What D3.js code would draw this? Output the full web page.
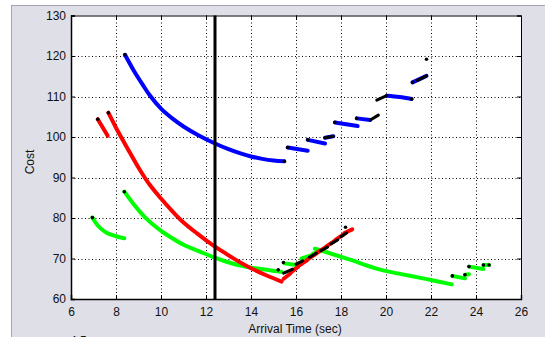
<!DOCTYPE html>
<html><head><meta charset="utf-8">
<script src="https://cdn.jsdelivr.net/npm/d3@7"></script>
<style>body{margin:0;background:#fff}svg{display:block}</style>
</head><body>
<svg id="c" width="545" height="337"></svg>
<script>
const xTicks = [6,8,10,12,14,16,18,20,22,24,26];
const yTicks = [60,70,80,90,100,110,120,130];
const xLabel = "Arrival Time (sec)";
const yLabel = "Cost";
const markerX = 12.4;

const blueSegs = [
  [[8.4,120.3],[8.8,116.3],[9.2,112.8],[9.5,110.3],[10.0,107.0],[10.5,104.6],[11.0,102.6],[11.7,100.3],[12.4,98.4],[13.0,97.0],[13.5,96.0],[14.0,95.2],[14.5,94.6],[15.0,94.2],[15.48,94.0]],
  [[15.63,97.4],[16.52,96.6]],
  [[16.52,99.3],[17.29,98.4]],
  [[17.29,99.8],[17.66,100.2]],
  [[17.73,103.6],[18.74,102.7]],
  [[18.7,104.6],[19.3,104.2]],
  [[20.03,110.2],[20.6,109.9],[21.14,109.4]],
  [[21.18,113.5],[21.8,115.1]]
];
const redSegs = [
  [[7.19,104.4],[7.63,100.3]],
  [[7.66,106.0],[8.0,102.3],[8.5,97.3],[9.07,91.8],[9.5,88.2],[10.0,84.8],[10.5,81.7],[11.0,78.9],[11.6,76.2],[12.3,73.3],[12.8,71.5],[13.2,70.1],[14.0,67.6],[14.7,65.8],[15.36,64.3]],
  [[15.45,65.0],[15.75,66.3]],
  [[15.8,66.7],[16.1,68.0]],
  [[16.15,68.3],[16.5,69.6]],
  [[16.55,69.9],[16.9,71.2]],
  [[16.95,71.5],[17.3,72.7]],
  [[17.35,73.0],[17.7,74.3]],
  [[17.75,74.6],[18.1,75.9]],
  [[18.15,76.3],[18.5,77.2]]
];
const greenSegs = [
  [[6.95,80.1],[7.1,78.8],[7.3,77.5],[7.6,76.3],[8.0,75.5],[8.37,75.0]],
  [[8.37,86.5],[8.8,83.3],[9.3,80.1],[9.96,77.0],[10.5,75.0],[11.0,73.4],[11.73,71.7],[12.3,70.4],[13.21,68.7],[13.96,67.8],[14.7,67.2],[15.36,66.7]],
  [[15.48,68.8],[16.03,68.4]],
  [[16.25,70.0],[16.7,70.8]],
  [[16.75,71.2],[17.2,72.0]],
  [[16.84,72.4],[17.5,71.3],[18.4,69.7],[19.7,67.3],[21.0,65.8],[22.0,64.7],[22.92,63.6]],
  [[22.95,65.7],[23.51,65.1]],
  [[23.51,66.0],[23.69,66.1]],
  [[23.69,68.0],[24.33,67.4]],
  [[24.33,68.4],[24.58,68.4]]
];
const blackSegs = [
  [[15.45,66.4],[15.85,67.4]],
  [[16.0,68.6],[16.3,69.4]],
  [[16.6,70.3],[16.9,71.3]],
  [[17.1,71.9],[17.4,72.8]],
  [[17.55,73.6],[17.85,74.6]],
  [[18.0,75.4],[18.25,76.3]],
  [[17.29,99.8],[17.66,100.2]],
  [[19.3,104.2],[19.66,105.4]],
  [[19.59,109.1],[20.03,110.2]],
  [[21.4,114.0],[21.8,115.1]]
];
const dots = [
  [8.4,120.3],[15.48,94.0],[15.63,97.4],[16.52,99.3],[17.73,103.6],[18.7,104.6],[21.18,113.5],[21.8,119.2],[21.14,109.4],
  [7.19,104.4],[7.66,106.0],[18.2,77.7],
  [6.95,80.1],[8.37,86.5],[15.21,67.2],[15.44,69.0],
  [22.95,65.7],[23.51,66.0],[23.69,68.0],[24.33,68.4],[24.58,68.4]
];

const svg = d3.select("#c");
svg.append("rect").attr("x",11.5).attr("y",5.5).attr("width",560).attr("height",360)
  .attr("fill","#dfdfe7").attr("stroke","#a4a4b4").attr("stroke-width",1);

const x = d3.scaleLinear().domain([6,26]).range([71,521]);
const y = d3.scaleLinear().domain([60,130]).range([299,15.5]);

svg.append("rect").attr("x",x(6)).attr("y",y(130)).attr("width",x(26)-x(6)).attr("height",y(60)-y(130)).attr("fill","#fff");

const grid = svg.append("g").attr("stroke","#000").attr("stroke-width",1).attr("stroke-dasharray","1,2.5");
grid.selectAll("line.gx").data(xTicks.slice(1,-1)).join("line")
  .attr("x1",d=>Math.round(x(d))+0.5).attr("x2",d=>Math.round(x(d))+0.5).attr("y1",y(130)).attr("y2",y(60));
grid.selectAll("line.gy").data(yTicks.slice(1,-1)).join("line")
  .attr("y1",d=>Math.round(y(d))+0.5).attr("y2",d=>Math.round(y(d))+0.5).attr("x1",x(6)).attr("x2",x(26));

const line = d3.line().x(d=>x(d[0])).y(d=>y(d[1])).curve(d3.curveCatmullRom.alpha(0.5));
function drawSegs(segs,color,w){
  svg.append("g").selectAll("path").data(segs).join("path")
    .attr("d",line).attr("fill","none").attr("stroke",color).attr("stroke-width",w)
    .attr("stroke-linecap","round").attr("stroke-linejoin","round");
}
drawSegs(blueSegs,"#0000ff",4);
drawSegs(greenSegs,"#00ff00",4);
drawSegs(redSegs,"#ff0000",4);
drawSegs(blackSegs,"#000",3);

svg.append("g").selectAll("circle").data(dots).join("circle")
  .attr("cx",d=>x(d[0])).attr("cy",d=>y(d[1])).attr("r",1.8).attr("fill","#000");

svg.append("line").attr("x1",x(markerX)).attr("x2",x(markerX)).attr("y1",y(130)).attr("y2",y(60))
  .attr("stroke","#000").attr("stroke-width",3);

const fnt = "'Liberation Sans', Arial, sans-serif";
const ax = svg.append("g").attr("transform",`translate(0,${y(60)})`)
  .call(d3.axisBottom(x).tickValues(xTicks).tickSize(-4).tickPadding(8).tickFormat(d3.format("d")));
const ay = svg.append("g").attr("transform",`translate(${x(6)},0)`)
  .call(d3.axisLeft(y).tickValues(yTicks).tickSize(-4).tickPadding(5).tickFormat(d3.format("d")));
const axT = svg.append("g").attr("transform",`translate(0,${y(130)})`)
  .call(d3.axisTop(x).tickValues(xTicks).tickSize(-4).tickFormat(""));
const ayR = svg.append("g").attr("transform",`translate(${x(26)},0)`)
  .call(d3.axisRight(y).tickValues(yTicks).tickSize(-4).tickFormat(""));
[ax,ay,axT,ayR].forEach(g=>{
  g.selectAll("path.domain").attr("stroke","#000").attr("stroke-width",1.5);
  g.selectAll(".tick line").attr("stroke","#000");
  g.selectAll("text").attr("font-family",fnt).attr("font-size",12).attr("fill","#111");
});
[axT,ayR].forEach(g=>g.selectAll("path.domain").attr("stroke-width",1));

svg.append("text").attr("x",295).attr("y",333).attr("text-anchor","middle")
  .attr("font-family",fnt).attr("font-size",12).attr("fill","#111").text(xLabel);
svg.append("text").attr("transform","translate(34,162) rotate(-90)").attr("text-anchor","middle")
  .attr("font-family",fnt).attr("font-size",12).attr("fill","#111").text(yLabel);
svg.append("text").attr("x",70).attr("y",345).attr("font-family",fnt).attr("font-size",12).attr("fill","#111").text("4.5");
</script>
</body></html>
